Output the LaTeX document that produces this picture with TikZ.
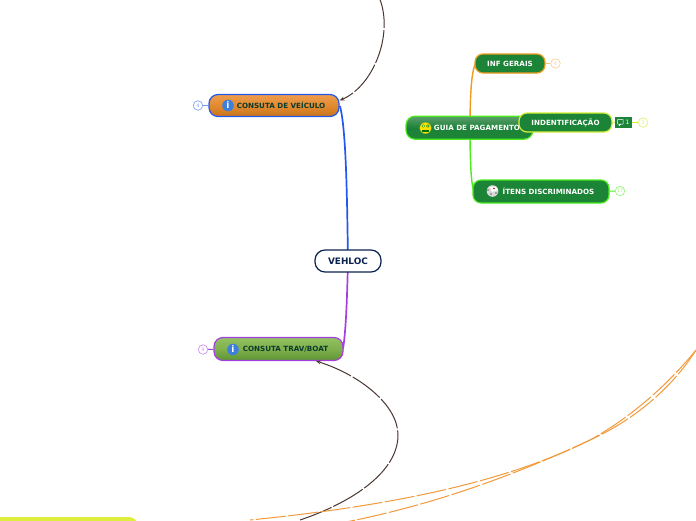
\documentclass[tikz,border=0pt]{standalone}
\usepackage{fontspec}
\usetikzlibrary{arrows.meta}
\setmainfont{DejaVu Sans}
\begin{document}
\begin{tikzpicture}[x=1pt,y=-1pt,
  topic/.style={rounded corners=9pt,line width=1.2pt,minimum height=22pt,inner sep=0pt,align=center,font=\bfseries\fontsize{7.15}{8}\selectfont},
  orangetopic/.style={topic,draw=blue1,top color=orange1,bottom color=orange2,middle color=orange3,text=ink,minimum width=130pt,minimum height=22pt},
  greentopic/.style={topic,draw=purple1,top color=olive1,bottom color=olive2,middle color=olive3,text=ink,minimum width=129pt,minimum height=23pt},
  guiatopic/.style={topic,draw=lime1,top color=dg1,bottom color=dg2,middle color=dg3,text=white,minimum width=127pt,minimum height=23pt},
  subtopic/.style={topic,fill=dg2,text=white,rounded corners=8pt},
  count/.style={circle,draw,fill=white,line width=.7pt,minimum size=9.5pt,inner sep=0pt,font=\fontsize{5}{5}\selectfont},
  link/.style={line width=1.7pt},
  rel/.style={draw=relc,line width=1pt,dash pattern=on 34pt off 2pt},
  relo/.style={draw=oran,line width=1pt,dash pattern=on 30pt off 2.5pt},
  infoicon/.style={circle,inner sep=0pt,minimum size=11.6pt,fill=iconblue,text=white,font=\bfseries\fontsize{9}{9}\selectfont},
]
\definecolor{blue1}{HTML}{2159EE}\definecolor{purple1}{HTML}{A63FE0}
\definecolor{lime1}{HTML}{4CEB1E}\definecolor{ink}{HTML}{0B3A2C}
\definecolor{iconblue}{HTML}{3F7FDC}
\definecolor{orange1}{HTML}{EE9C4E}\definecolor{orange3}{HTML}{E28A30}\definecolor{orange2}{HTML}{C8741E}
\definecolor{olive1}{HTML}{93C262}\definecolor{olive3}{HTML}{7FB04C}\definecolor{olive2}{HTML}{5E9433}
\definecolor{dg1}{HTML}{5C9E6C}\definecolor{dg3}{HTML}{1D8239}\definecolor{dg2}{HTML}{1B8436}
\definecolor{navy}{HTML}{0B2350}\definecolor{relc}{HTML}{4A3630}\definecolor{oran}{HTML}{F2993A}
\definecolor{yel}{HTML}{DDEE3C}\definecolor{oranB}{HTML}{F09A1E}\definecolor{yelB}{HTML}{D6F03A}
\useasboundingbox (0,0) rectangle (696,520);
\clip (0,0) rectangle (696,520);

% free ends of the curves
\coordinate (topEnd) at (378,-5);
\coordinate (botMid) at (398,435);
\coordinate (botEnd) at (300,520);
\coordinate (oA) at (696,350);
\coordinate (oM) at (590,440);
\coordinate (oB) at (250,520);
\coordinate (oC) at (330,525);
\coordinate (guiaHub) at (470,128);
\coordinate (hubV) at (348,261);

% link lines
\draw[link,draw=blue1] (hubV) .. controls (347,190) and (346,130) .. (340,106);
\draw[link,draw=purple1] (hubV) .. controls (347,300) and (346,330) .. (343,349);
\draw[link,draw=oranB,line width=1.4pt] (guiaHub) .. controls (470,90) and (472,68) .. (476,63);
\draw[link,draw=lime1,line width=1.4pt] (guiaHub) .. controls (470,160) and (471,185) .. (474,191);

% central
\node[topic,draw=navy,fill=white,text=navy,minimum width=66pt,font=\bfseries\fontsize{8.9}{10}\selectfont,rounded corners=10pt] (veh) at (348,261) {VEHLOC};

% main topics
\node[orangetopic] (veic) at (274,105.5) {\hspace*{14pt}CONSUTA DE VEÍCULO};
\node[greentopic] (trav) at (278.5,349) {\hspace*{14pt}CONSUTA TRAV/BOAT};
\node[guiatopic] (guia) at (469.5,127.7) {\hspace*{15pt}GUIA DE PAGAMENTO};
\node[subtopic,draw=oranB,minimum width=70pt,minimum height=19pt] (inf) at (510,63.5) {INF GERAIS};
\node[subtopic,draw=lime1,minimum width=136pt,minimum height=23pt] (itens) at (541,191.5) {\hspace*{15pt}ÍTENS DISCRIMINADOS};
\node[subtopic,draw=yelB,minimum width=93pt,minimum height=19pt] (ident) at (565.5,122.5) {INDENTIFICAÇÃO};

% info icons
\node[infoicon] (iconA) at (228,105.5) {i};
\node[infoicon] (iconB) at (233,349.5) {i};

% money-mouth face
\fill[draw=olive2,fill=yellow!85!orange,line width=.3pt] (425.5,128) circle (5.8pt);
\fill[green!55!black] (423.2,126) circle (1.7pt) (427.8,126) circle (1.7pt);
\fill[white] (423.2,126) circle (.8pt) (427.8,126) circle (.8pt);
\fill[green!45!black] (422,129.5) rectangle (429,132);

% dice
\fill[black!15] (492.5,191) circle (5.8pt);
\fill[white] (490,187) -- (496,186.5) -- (498,190) -- (492,192) -- cycle;
\fill[black!60] (488,190) circle (.9pt) (491,194) circle (.9pt) (496,193) circle (.9pt);
\fill[red!70!black] (494,188.5) circle (.8pt);

% count badges
\node[count,draw=blue1!55,text=blue1!55] (cA) at (198,105.5) {4};
\node[count,draw=purple1!55,text=purple1!55] (cB) at (203,349.5) {4};
\node[count,draw=oranB!45,text=oranB!45] (cC) at (555.5,63.5) {4};
\node[count,draw=yelB!70,text=yelB!70] (cD) at (643,122.5) {3};
\node[count,draw=lime1!55,text=lime1!55] (cE) at (620,191) {17};
\draw[blue1!60,line width=1pt] (cA) -- (veic);
\draw[purple1,line width=1pt] (cB) -- (trav);
\draw[oranB!60,line width=1pt] (cC) -- (inf);
\draw[lime1,line width=1pt] (cE) -- (itens);

% note badge
\node[fill=dg2,text=white,minimum width=17pt,minimum height=11pt,inner sep=0pt,font=\fontsize{6}{6}\selectfont] (note) at (623.5,122.5) {\hspace*{8pt}1};
\draw[white,line width=.5pt,line join=round] (617.5,119.5) rectangle (623,124) (619.5,124) -- (619,126) -- (621,124);
\draw[yelB,line width=1pt] (note) -- (cD);
\draw[yelB,line width=1pt] (ident) -- (note);

% relationship curves
\path[rel,-{Stealth[length=5pt,width=4pt]}] (topEnd) .. controls (395,30) and (375,85) .. ([yshift=5pt]veic.east);
\path[rel,-{Stealth[length=5pt,width=4pt]}] (botEnd) .. controls (345,505) and (398,475) .. (botMid) .. controls (398,405) and (360,375) .. (316,361);
\path[relo] (oA) .. controls (665,388) and (628,419) .. (oM) .. controls (510,480) and (400,505) .. (oB);
\path[relo] (oA) .. controls (672,388) and (634,420) .. (oM) .. controls (515,475) and (430,507) .. (oC);

% partly visible yellow topic
\fill[yel] (-10,517) [rounded corners=6pt] -- (135,517) -- (140,530) -- (-10,530) -- cycle;
\end{tikzpicture}
\end{document}
